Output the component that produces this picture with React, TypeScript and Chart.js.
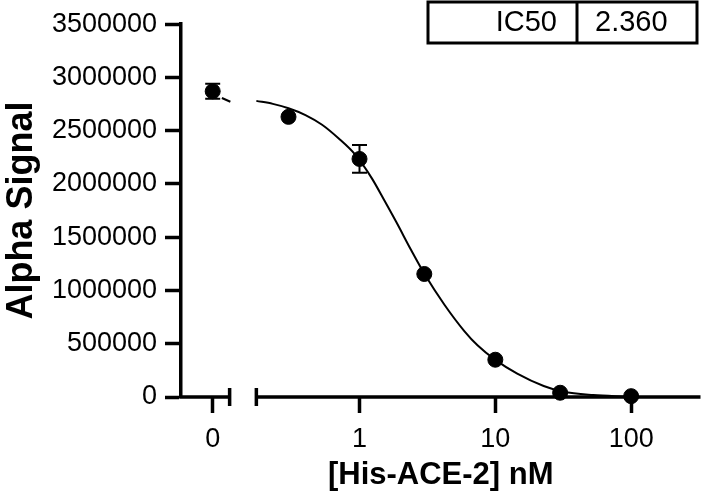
import React, { useEffect, useRef } from "react";
import { Chart, registerables } from "chart.js";

Chart.register(...registerables);

// ---- data ----
const CONC = [0, 0.3, 1, 3, 10, 30, 100];
const SIGNAL = [2870000, 2630000, 2235000, 1155000, 350000, 40000, 8000];
const SIGNAL_ERR = [70000, 0, 130000, 0, 0, 0, 0];

const CURVE_X = [0.174, 0.23, 0.3, 0.4, 0.53, 0.7, 0.93, 1.23, 1.54, 1.87, 2.41, 3.02, 4.22, 5.91, 7.39, 10, 14.5, 22.7, 31.7, 52.6, 92];
const CURVE_Y = [2780000, 2752000, 2711000, 2647000, 2556000, 2429000, 2275000, 2055000, 1835000, 1640000, 1375000, 1152000, 866000, 619000, 485000, 348000, 219000, 103000, 49000, 18000, 3000];
const CURVE_LEFT_X = [0.097, 0.112];
const CURVE_LEFT_Y = [2807000, 2772000];

const X_TICK_LABELS = ["0", "1", "10", "100"];
const X_TICK_VALUES = [0, 1, 10, 100];
const Y_MAX = 3500000;
const Y_STEP = 500000;

const IC50_LABEL = "IC50";
const IC50_VALUE = "2.360";

// ---- broken-axis placement (log-axis positions) ----
const ZERO_AT = 0.083; // where the "0" group sits on the log axis
const X_MIN = 0.0485;
const X_MAX = 324;
const BREAK_LO = 0.1106;
const BREAK_HI = 0.174;

const FONT = "'Liberation Sans', Arial, sans-serif";
const AXIS_W = 3.5;

const mapX = (v: number) => (v === 0 ? ZERO_AT : v);

const brokenAxisPlugin = {
  id: "brokenAxis",
  afterDraw(chart: any) {
    const { ctx, chartArea, scales } = chart;
    const xs = scales.x;
    const y = chartArea.bottom;
    const lo = xs.getPixelForValue(BREAK_LO);
    const hi = xs.getPixelForValue(BREAK_HI);
    ctx.save();
    ctx.strokeStyle = "#000";
    ctx.lineWidth = AXIS_W;
    ctx.lineCap = "butt";
    ctx.beginPath();
    ctx.moveTo(chartArea.left - AXIS_W / 2, y);
    ctx.lineTo(lo, y);
    ctx.moveTo(hi, y);
    ctx.lineTo(chartArea.right, y);
    ctx.stroke();
    ctx.beginPath();
    ctx.moveTo(lo, y - 9);
    ctx.lineTo(lo, y + 9);
    ctx.moveTo(hi, y - 9);
    ctx.lineTo(hi, y + 9);
    ctx.stroke();
    ctx.restore();

    // IC50 table
    ctx.save();
    ctx.strokeStyle = "#000";
    ctx.lineWidth = 3;
    ctx.strokeRect(428, 2, 269, 41);
    ctx.beginPath();
    ctx.moveTo(577, 2);
    ctx.lineTo(577, 43);
    ctx.stroke();
    ctx.fillStyle = "#000";
    ctx.font = `29px ${FONT}`;
    ctx.textBaseline = "middle";
    ctx.textAlign = "right";
    ctx.fillText(IC50_LABEL, 557, 23);
    ctx.textAlign = "left";
    ctx.fillText(IC50_VALUE, 595, 23);
    ctx.restore();
  },
};

const errorBarPlugin = {
  id: "errorBars",
  afterDatasetsDraw(chart: any) {
    const { ctx, scales } = chart;
    const meta = chart.getDatasetMeta(0);
    ctx.save();
    ctx.strokeStyle = "#000";
    ctx.lineWidth = 2;
    meta.data.forEach((pt: any, i: number) => {
      const e = SIGNAL_ERR[i];
      if (!e) return;
      const x = pt.x;
      const yTop = scales.y.getPixelForValue(SIGNAL[i] + e);
      const yBot = scales.y.getPixelForValue(SIGNAL[i] - e);
      ctx.beginPath();
      ctx.moveTo(x, yTop);
      ctx.lineTo(x, yBot);
      ctx.moveTo(x - 7.5, yTop);
      ctx.lineTo(x + 7.5, yTop);
      ctx.moveTo(x - 7.5, yBot);
      ctx.lineTo(x + 7.5, yBot);
      ctx.stroke();
    });
    ctx.restore();
  },
};

export default function App() {
  const ref = useRef<HTMLCanvasElement | null>(null);

  useEffect(() => {
    document.body.style.margin = "0";
    const canvas = ref.current;
    if (!canvas) return;
    const chart = new Chart(canvas, {
      type: "scatter",
      data: {
        datasets: [
          {
            label: "Signal",
            data: CONC.map((c, i) => ({ x: mapX(c), y: SIGNAL[i] })),
            backgroundColor: "#000",
            borderColor: "#000",
            pointRadius: 7.5,
            pointHoverRadius: 7.5,
            showLine: false,
            clip: false,
          } as any,
          {
            label: "Fit",
            data: CURVE_X.map((x, i) => ({ x, y: CURVE_Y[i] })),
            borderColor: "#000",
            borderWidth: 2,
            pointRadius: 0,
            showLine: true,
            cubicInterpolationMode: "monotone",
            clip: false,
          } as any,
          {
            label: "FitLeft",
            data: CURVE_LEFT_X.map((x, i) => ({ x, y: CURVE_LEFT_Y[i] })),
            borderColor: "#000",
            borderWidth: 2,
            pointRadius: 0,
            showLine: true,
          } as any,
        ],
      },
      options: {
        responsive: false,
        animation: false,
        events: [],
        layout: { padding: { left: 0, right: 4, top: 18, bottom: 0 } },
        plugins: { legend: { display: false }, tooltip: { enabled: false } },
        scales: {
          x: {
            type: "logarithmic",
            min: X_MIN,
            max: X_MAX,
            border: { display: false },
            grid: {
              drawOnChartArea: false,
              drawTicks: true,
              tickLength: 16,
              tickWidth: AXIS_W,
              tickColor: "#000",
              color: "#000",
            },
            afterBuildTicks: (scale: any) => {
              scale.ticks = X_TICK_VALUES.map((v) => ({ value: mapX(v) }));
            },
            ticks: {
              autoSkip: false,
              maxRotation: 0,
              color: "#000",
              padding: 10,
              font: { family: FONT, size: 27 },
              callback: (_v: any, idx: number) => X_TICK_LABELS[idx],
            },
            title: {
              display: true,
              text: "[His-ACE-2] nM",
              color: "#000",
              font: { family: FONT, size: 31, weight: "bold" },
              padding: { top: 0, bottom: 6 },
            },
            afterFit: (scale: any) => {
              scale.height = 103;
            },
          } as any,
          y: {
            type: "linear",
            min: 0,
            max: Y_MAX,
            border: { display: true, color: "#000", width: AXIS_W },
            grid: {
              drawOnChartArea: false,
              drawTicks: true,
              tickLength: 16,
              tickWidth: AXIS_W,
              tickColor: "#000",
              color: "#000",
            },
            ticks: {
              stepSize: Y_STEP,
              color: "#000",
              padding: 8,
              font: { family: FONT, size: 27 },
              callback: (v: any) => String(v),
            },
            title: {
              display: true,
              text: "Alpha Signal",
              color: "#000",
              font: { family: FONT, size: 36, weight: "bold" },
              padding: { top: 0, bottom: 0 },
            },
            afterFit: (scale: any) => {
              scale.width = 181;
            },
          } as any,
        },
      },
      plugins: [brokenAxisPlugin, errorBarPlugin],
    });
    return () => chart.destroy();
  }, []);

  return (
    <div style={{ width: 709, height: 500, background: "#fff" }}>
      <canvas ref={ref} width={709} height={500} style={{ display: "block" }} />
    </div>
  );
}
